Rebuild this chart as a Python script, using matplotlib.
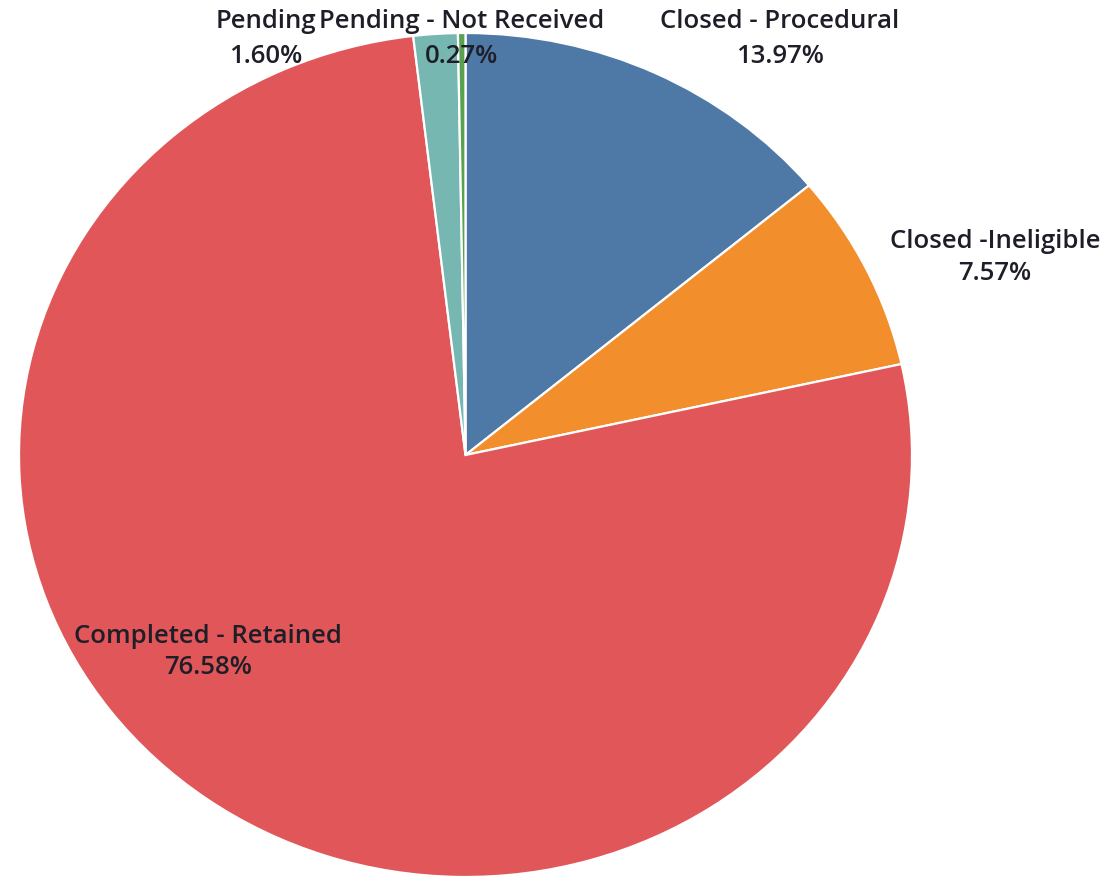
import matplotlib
matplotlib.use("Agg")
import matplotlib.pyplot as plt

categories = ["Closed - Procedural", "Closed -Ineligible", "Completed - Retained",
              "Pending", "Pending - Not Received"]
shares = [13.97, 7.57, 76.58, 1.60, 0.27]
colors = ["#4e79a7", "#f28e2b", "#e15759", "#76b7b2", "#59a14f"]

W, H = 1109, 880
fig = plt.figure(figsize=(W / 100, H / 100), dpi=100)
fig.patch.set_facecolor("white")

# pie area in pixels (left, top, right, bottom)
pl, pt, pr, pb = 19, 33, 912, 877
ax = fig.add_axes([pl / W, 1 - pb / H, (pr - pl) / W, (pb - pt) / H])
ax.pie(shares, colors=colors, startangle=90, counterclock=False, radius=1.0,
       wedgeprops=dict(edgecolor="white", linewidth=1.6))
ax.set_aspect("auto")
ax.set_xlim(-1, 1)
ax.set_ylim(-1, 1)
ax.axis("off")

# label layout: (center x px, baseline y line1, baseline y line2)
label_pos = {
    "Closed - Procedural": (780, 28, 63),
    "Closed -Ineligible": (995, 248, 280),
    "Completed - Retained": (208, 643, 674),
    "Pending": (266, 28, 63),
    "Pending - Not Received": (462, 28, 63),
}
font = dict(family=["Open Sans", "DejaVu Sans"], fontsize=18.5, fontweight="semibold",
            color="#1e1e28")
for cat, val in zip(categories, shares):
    x, y1, y2 = label_pos[cat]
    fig.text(x / W, 1 - y1 / H, cat, ha="center", va="baseline", **font)
    fig.text(x / W, 1 - y2 / H, f"{val:.2f}%", ha="center", va="baseline", **font)

fig.savefig("out.png", dpi=100, facecolor="white")
